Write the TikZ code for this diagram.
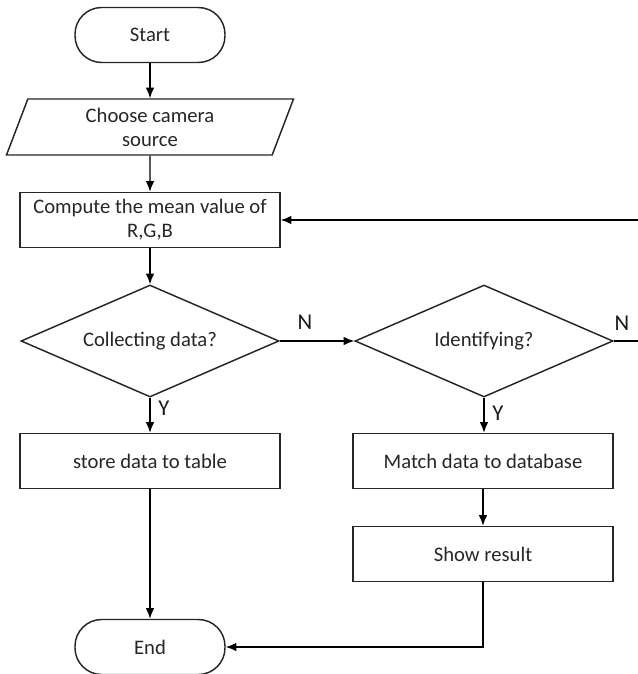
\documentclass[tikz,border=0pt]{standalone}
\usepackage{fontspec}
\setmainfont{Carlito}
\usetikzlibrary{shapes.geometric,arrows.meta}
\begin{document}
\begin{tikzpicture}[x=0.75pt,y=-0.75pt,
  every node/.style={font=\fontsize{15.5}{18}\selectfont, text=black!85},
  base/.style={draw=black!85, line width=1.1pt, inner sep=0pt, align=center},
  terminal/.style={base, rectangle, rounded corners=20pt, minimum width={150*0.75pt}, minimum height={55*0.75pt}},
  procbox/.style={base, rectangle, minimum width={260*0.75pt}, minimum height={55*0.75pt}},
  iobox/.style={base, trapezium, trapezium left angle=61, trapezium right angle=119, trapezium stretches body, minimum width={287*0.75pt}, minimum height={56*0.75pt}},
  decision/.style={base, diamond, aspect=2.3, minimum width={258*0.75pt}, minimum height={112*0.75pt}},
  arrow/.style={draw=black, line width=1.1pt, -{Latex[length=8pt,width=6.5pt]}},
  plain/.style={draw=black, line width=1.1pt},
  lab/.style={font=\fontsize{17}{20}\selectfont, text=black!90}]
\clip (0,0) rectangle (638,674);
\useasboundingbox (0,0) rectangle (638,674);

\node[terminal] (start) at (150,35) {Start};
\node[iobox] (src) at (150,127) {Choose camera\\source};
\node[procbox] (comp) at (150,220) {Compute the mean value of\\R,G,B};
\node[decision] (coll) at (150,341) {Collecting data?};
\node[procbox] (store) at (150,461) {store data to table};
\node[decision] (ident) at (484,341) {Identifying?};
\node[procbox] (match) at (483,461) {Match data to database};
\node[procbox] (show) at (483,554) {Show result};
\node[terminal] (end) at (150,647) {End};

\coordinate (loop) at (660,341);

\draw[arrow] (start) -- (src);
\draw[arrow] (src) -- (comp);
\draw[arrow] (comp) -- (coll);
\draw[arrow] (coll) -- (store);
\draw[arrow] (coll) -- (ident);
\draw[arrow] (ident.south) -- (ident.south |- match.north);
\draw[arrow] (match) -- (show);
\draw[arrow] (store) -- (end);
\draw[arrow] (show.south) |- (end.east);
\draw[arrow] (ident.east) -- (loop) |- (comp.east);

\node[lab] (n1) at (305,322) {N};
\node[lab] (n2) at (622,323) {N};
\node[lab] (y1) at (164,408) {Y};
\node[lab] (y2) at (498,413) {Y};
\end{tikzpicture}
\end{document}
